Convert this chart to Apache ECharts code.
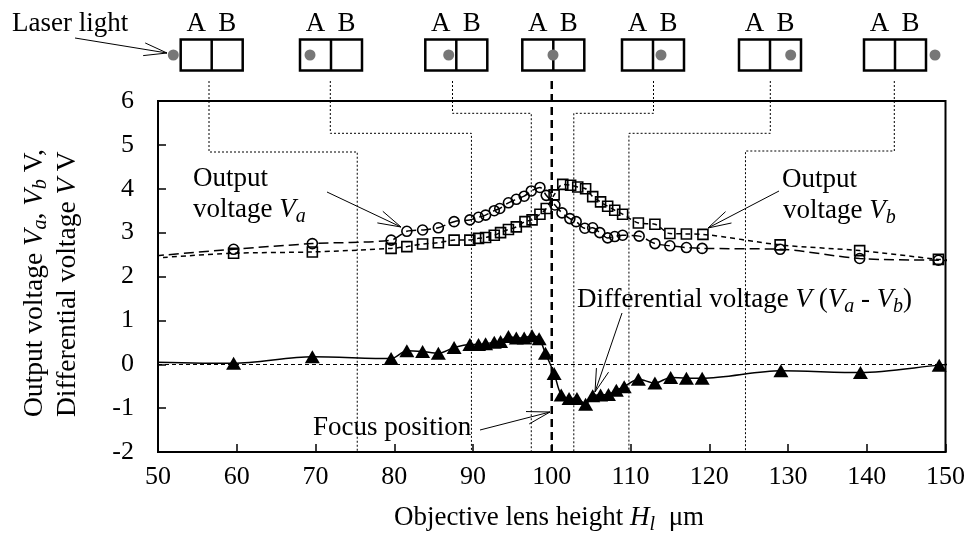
<!DOCTYPE html>
<html><head><meta charset="utf-8">
<script src="https://cdn.jsdelivr.net/npm/echarts@6/dist/echarts.min.js"></script>
<style>html,body{margin:0;padding:0;background:#fff}#c{width:968px;height:540px}</style>
</head><body><div id="c"></div>
<script>
// ---- data ----
const hA = [49.5, 59.6, 69.6, 79.6, 81.6, 83.6, 85.6, 87.6, 89.6, 90.7, 91.6, 92.7, 93.4, 94.5, 95.5, 96.5, 97.4, 98.5, 99.3, 100.4, 101.3, 102.3, 103.1, 104.2, 105.2, 106.1, 107.1, 108.0, 109.0, 111.1, 113.1, 115.0, 117.1, 119.1, 129.0, 139.1, 149.1, 150.5];
const vA = [2.47, 2.62, 2.75, 2.83, 3.03, 3.06, 3.11, 3.25, 3.29, 3.35, 3.40, 3.50, 3.55, 3.68, 3.76, 3.83, 3.95, 4.03, 3.85, 3.63, 3.45, 3.32, 3.25, 3.10, 3.11, 3.00, 2.88, 2.91, 2.94, 2.92, 2.75, 2.70, 2.66, 2.64, 2.62, 2.41, 2.37, 2.36];
const hB = [49.5, 59.6, 69.6, 79.6, 81.6, 83.6, 85.6, 87.6, 89.6, 90.7, 91.6, 92.7, 93.5, 94.5, 95.5, 96.6, 97.5, 98.5, 99.3, 100.3, 101.4, 102.4, 103.3, 104.3, 105.2, 106.2, 107.1, 108.0, 109.0, 111.0, 113.1, 115.0, 117.1, 119.2, 129.0, 139.1, 149.1, 150.5];
const vB = [2.42, 2.53, 2.56, 2.64, 2.68, 2.74, 2.77, 2.83, 2.83, 2.87, 2.89, 2.94, 3.00, 3.07, 3.13, 3.25, 3.29, 3.42, 3.55, 3.86, 4.10, 4.08, 4.04, 4.00, 3.82, 3.70, 3.60, 3.51, 3.42, 3.22, 3.19, 2.98, 2.97, 2.96, 2.72, 2.59, 2.39, 2.37];
const hD = [49.5, 59.6, 69.6, 79.6, 81.6, 83.6, 85.6, 87.6, 89.6, 90.7, 91.6, 92.7, 93.5, 94.5, 95.5, 96.5, 97.5, 98.4, 99.2, 100.3, 101.2, 102.2, 103.2, 104.3, 105.2, 106.2, 107.2, 108.2, 109.2, 111.0, 113.1, 115.1, 117.1, 119.1, 129.1, 139.2, 149.2, 150.5];
const vD = [0.05, 0.02, 0.17, 0.13, 0.31, 0.29, 0.25, 0.38, 0.45, 0.45, 0.47, 0.50, 0.52, 0.63, 0.60, 0.60, 0.65, 0.58, 0.25, -0.21, -0.70, -0.78, -0.78, -0.91, -0.72, -0.70, -0.69, -0.59, -0.51, -0.34, -0.43, -0.30, -0.32, -0.32, -0.15, -0.19, -0.02, 0.00];
const xMin = 50, xMax = 150, xStep = 10;
const yMin = -2, yMax = 6, yStep = 1;
const focusH = 100;
const connectorH = [75.3, 89.8, 97.4, 102.8, 109.8, 124.6];

// ---- chart ----
const FONT = '"Liberation Serif", "Times New Roman", serif';
const chart = echarts.init(document.getElementById('c'), null, {renderer: 'canvas'});
const pts = (h, v) => h.map((x, i) => [x, v[i]]);
const hollow = {color: 'rgba(255,255,255,0)', borderColor: '#000', borderWidth: 1.6};

chart.setOption({
  animation: false,
  backgroundColor: '#fff',
  grid: {left: 158, right: 22, top: 101, bottom: 88, show: true, borderColor: '#000', borderWidth: 2, backgroundColor: 'transparent'},
  xAxis: {
    type: 'value', min: xMin, max: xMax, interval: xStep,
    axisLine: {onZero: false, lineStyle: {color: '#000', width: 2}},
    axisTick: {inside: true, length: 8, lineStyle: {color: '#000', width: 1.5}},
    axisLabel: {color: '#000', fontFamily: FONT, fontSize: 26, margin: 12},
    splitLine: {show: false}
  },
  yAxis: {
    type: 'value', min: yMin, max: yMax, interval: yStep,
    axisLine: {onZero: false, lineStyle: {color: '#000', width: 2}},
    axisTick: {inside: true, length: 8, lineStyle: {color: '#000', width: 1.5}},
    axisLabel: {color: '#000', fontFamily: FONT, fontSize: 26, margin: 24},
    splitLine: {show: false}
  },
  series: [
    {name: 'Va', type: 'line', data: pts(hA, vA), smooth: 0.3, clip: true,
     symbol: 'circle', symbolSize: 10, itemStyle: hollow,
     lineStyle: {color: '#000', width: 1.5, type: [10, 5]}, emphasis: {disabled: true}, z: 3},
    {name: 'Vb', type: 'line', data: pts(hB, vB), smooth: 0.3, clip: true,
     symbol: 'rect', symbolSize: 10, itemStyle: hollow,
     lineStyle: {color: '#000', width: 1.5, type: [5, 4]}, emphasis: {disabled: true}, z: 3},
    {name: 'V', type: 'line', data: pts(hD, vD), smooth: 0.3, clip: true,
     symbol: 'triangle', symbolSize: [15, 13], itemStyle: {color: '#000'},
     lineStyle: {color: '#000', width: 1.5}, emphasis: {disabled: true}, z: 4,
     markLine: {silent: true, symbol: 'none', label: {show: false}, z: 2,
       lineStyle: {color: '#000', width: 1, type: [4, 3]}, data: [{yAxis: 0}]}}
  ]
});

// ---- annotations ----
const P = (x, y) => chart.convertToPixel({gridIndex: 0}, [x, y]);
const yBot = P(xMin, yMin)[1];
const RICH = {
  i: {fontStyle: 'italic', fontFamily: FONT, fontSize: 27, lineHeight: 33},
  s: {fontStyle: 'italic', fontFamily: FONT, fontSize: 20, lineHeight: 17, verticalAlign: 'bottom'}
};
const G = [];
function txt(x, y, text, align, extra) {
  const el = {type: 'text', x: x, y: y, z: 10, silent: true,
    style: Object.assign({text: text, fontFamily: FONT, fontSize: 27, fill: '#000',
      align: align || 'left', textAlign: align || 'left', verticalAlign: 'middle', textVerticalAlign: 'middle',
      lineHeight: 33, rich: RICH}, extra && extra.style)};
  if (extra && extra.rotation) el.rotation = extra.rotation;
  G.push(el);
}
function line(x1, y1, x2, y2, w, dash) {
  G.push({type: 'line', z: 10, silent: true, shape: {x1, y1, x2, y2},
    style: {stroke: '#000', lineWidth: w || 1, lineDash: dash || null}});
}
function arrow(x1, y1, x2, y2) {
  line(x1, y1, x2, y2, 1);
  const a = Math.atan2(y2 - y1, x2 - x1), L = 24, w = 0.27;
  line(x2, y2, x2 - L * Math.cos(a - w), y2 - L * Math.sin(a - w), 1);
  line(x2, y2, x2 - L * Math.cos(a + w), y2 - L * Math.sin(a + w), 1);
}

// sensor boxes with laser spot
const boxLeft = [180.7, 300, 425.3, 522.3, 622, 739, 864];
const spotX = [173.3, 310, 448.7, 553, 661, 790.7, 935];
boxLeft.forEach((bx, k) => {
  G.push({type: 'rect', z: 10, silent: true, shape: {x: bx, y: 39.5, width: 62, height: 31},
    style: {stroke: '#000', lineWidth: 2.5, fill: null}});
  line(bx + 31, 39.5, bx + 31, 70.5, 2.5);
  G.push({type: 'circle', z: 11, silent: true, shape: {cx: spotX[k], cy: 55, r: 5.5}, style: {fill: '#777'}});
  txt(bx + 15.5, 24, 'A', 'center');
  txt(bx + 46.5, 24, 'B', 'center');
});

// dotted connectors from boxes to the axis
const connTopX = [209, 330.3, 452.5, 653.5, 770.3, 894.3];
const connElbowY = [152, 133.3, 113.3, 113.3, 133.3, 151];
connectorH.forEach((h, k) => {
  const lx = P(h, 0)[0];
  G.push({type: 'polyline', z: 9, silent: true,
    shape: {points: [[connTopX[k], 81], [connTopX[k], connElbowY[k]], [lx, connElbowY[k]], [lx, yBot]]},
    style: {stroke: '#000', lineWidth: 1, lineDash: [2, 2], fill: null}});
});
// focus line
const fx = P(focusH, 0)[0];
line(fx, 81, fx, yBot, 2.5, [8, 5]);

// texts and arrows
txt(12, 24, 'Laser light');
arrow(75, 38, 167, 53);
txt(193, 179, 'Output');
txt(193, 210, 'voltage {i|V}{s|a}');
arrow(327, 192, 401, 227);
txt(782, 180, 'Output');
txt(783, 211, 'voltage {i|V}{s|b}');
arrow(779, 191, 708, 228);
txt(577, 300, 'Differential voltage {i|V} ({i|V}{s|a} - {i|V}{s|b})');
arrow(622, 313, 595, 392);
txt(313, 428, 'Focus position');
arrow(480, 430, 550, 412);

// axis titles
txt(18, 417, 'Output voltage {i|V}{s|a}, {i|V}{s|b} V,\nDifferential voltage {i|V} V', 'left',
  {rotation: Math.PI / 2, style: {verticalAlign: 'top', textVerticalAlign: 'top', fontSize: 27.5}});
txt(549, 518, 'Objective lens height {i|H}{s|l}  μm', 'center');

chart.setOption({graphic: {elements: G}});
</script>
</body></html>
